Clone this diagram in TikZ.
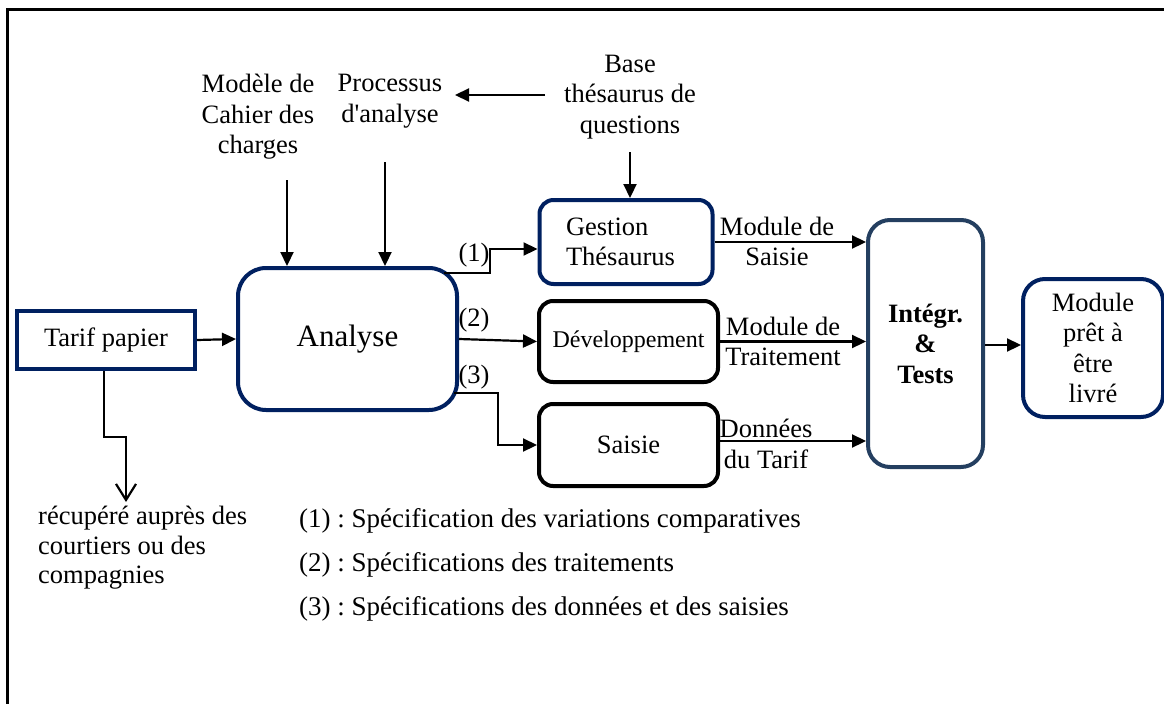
\documentclass[tikz,border=0pt]{standalone}
\usepackage{fontspec}
\setmainfont{Liberation Serif}
\usetikzlibrary{arrows.meta}
\definecolor{navy}{HTML}{002060}
\definecolor{slate}{HTML}{243F60}
\frenchspacing
\begin{document}
\begin{tikzpicture}[x=1pt,y=-1pt,
  font=\fontsize{26.5}{30.5}\selectfont,
  box/.style={draw, line width=4pt, inner sep=0pt, align=center},
  rbox/.style={box, rounded corners=14pt},
  arr/.style={line width=2.2pt, -{Triangle[length=14pt,width=13pt]}},
  barb/.style={line width=2.2pt, -{Straight Barb[length=16pt,width=20pt,line width=2.2pt]}},
  lbl/.style={inner sep=0pt, align=center}]
\useasboundingbox (0,0) rectangle (1164,704);
% frame
\draw[line width=3pt] (1164,9) -- (7,9) -- (7,704);

% boxes
\node[box, draw=navy, minimum width=178pt, minimum height=58pt] (tarif) at (106,340) {Tarif papier};
\node[box, draw=navy, rounded corners=28pt, minimum width=219pt, minimum height=142pt,
      font=\fontsize{31}{36}\selectfont] (analyse) at (347.5,339) {Analyse};
\node[rbox, draw=navy, minimum width=173pt, minimum height=84pt, text width=120pt, align=left] (gestion) at (626,242) {Gestion\\Thésaurus};
\node[rbox, draw=black, minimum width=179pt, minimum height=81pt,
      font=\fontsize{24}{28}\selectfont] (dev) at (628.5,341.5) {Développement};
\node[rbox, draw=black, minimum width=179pt, minimum height=82pt] (saisie) at (628.5,445) {Saisie};
\node[box, draw=slate, rounded corners=22pt, minimum width=115pt, minimum height=247pt] (integ) at (925.5,343.5) {\textbf{Intégr.}\\\textbf{\&}\\\textbf{Tests}};
\node[box, draw=navy, rounded corners=22pt, minimum width=140pt, minimum height=138pt] (module) at (1093,348) {Module\\prêt à\\être\\livré};

% top texts
\node[lbl] (modele) at (258,117) {Modèle de\\Cahier des\\charges};
\node[lbl] (processus) at (390,101) {Processus\\d\textquotesingle analyse};
\node[lbl] (base) at (630,97) {Base\\thésaurus de\\questions};

\coordinate (m1) at (287,180);
\coordinate (p1) at (385,162);
\coordinate (b1) at (630,152);
\coordinate (b2) at (545,95);
\coordinate (p2) at (455,95);
\draw[arr] (m1) -- (m1 |- analyse.north);
\draw[arr] (p1) -- (p1 |- analyse.north);
\draw[arr] (b1) -- (b1 |- gestion.north);
\draw[arr] (b2) -- (p2);

% left
\draw[arr] (tarif.east) -- (analyse.west);
\coordinate (r1) at (126,502);
\draw[barb] ([xshift=-2pt]tarif.south) -- ++(0,66) -- ++(22,0) -- (r1);
\node[inner sep=0pt, anchor=west, align=left, font=\fontsize{26.5}{29.5}\selectfont] (recup) at (38,548) {récupéré auprès des\\courtiers ou des\\compagnies};

% analyse outputs
\coordinate (a1) at (444,273);
\coordinate (a3) at (454,393);
\draw[arr] (a1) -- (490,273) |- ([yshift=-7pt]gestion.west);
\draw[arr] (analyse.east) -- (dev.west);
\draw[arr] (a3) -- (498,393) |- (saisie.west);
\node[lbl] (l1) at (474,255) {(1)};
\node[lbl] (l2) at (474,320) {(2)};
\node[lbl] (l3) at (474,377) {(3)};

% to integration
\draw[arr] (gestion.east) -- (gestion.east -| integ.west);
\draw[arr] (dev.east) -- (dev.east -| integ.west);
\draw[arr] ([yshift=4pt]saisie.east) -- ([yshift=4pt]saisie.east -| integ.west);
\node[lbl] (t1) at (777,241.5) {Module de\\Saisie};
\node[lbl] (t2) at (783,341.5) {Module de\\Traitement};
\node[lbl] (t3) at (766,444) {Données\\du Tarif};

\draw[arr] ([yshift=-1.5pt]integ.east) -- ([yshift=-1.5pt]integ.east -| module.west);

% legend
\node[inner sep=0pt, anchor=west, font=\fontsize{27}{31}\selectfont] (leg1) at (299,521) {(1) : Spécification des variations comparatives};
\node[inner sep=0pt, anchor=west, font=\fontsize{27}{31}\selectfont] (leg2) at (299,565) {(2) : Spécifications des traitements};
\node[inner sep=0pt, anchor=west, font=\fontsize{27}{31}\selectfont] (leg3) at (299,609) {(3) : Spécifications des données et des saisies};
\end{tikzpicture}
\end{document}
